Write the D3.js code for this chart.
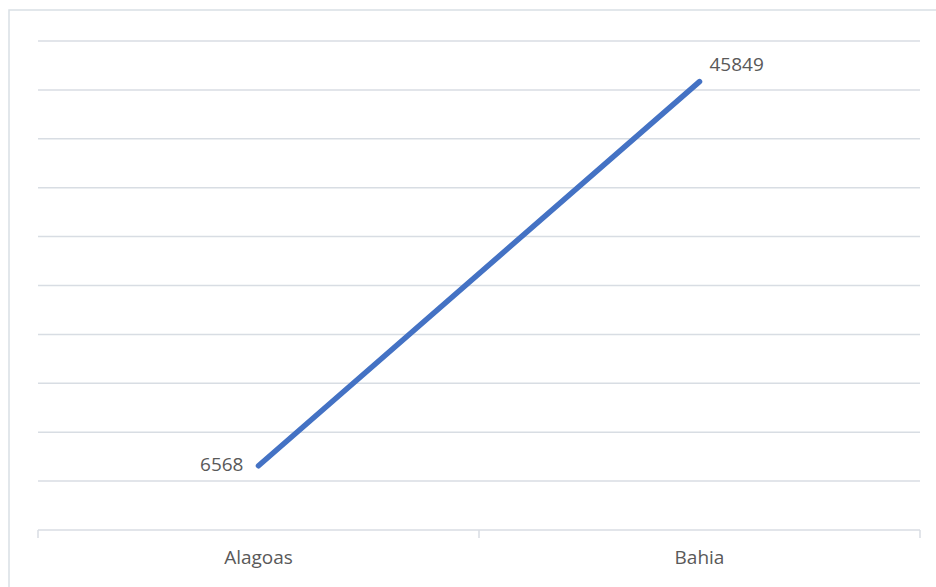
<!DOCTYPE html>
<html>
<head>
<meta charset="utf-8">
<script src="https://cdn.jsdelivr.net/npm/d3@7"></script>
<style>
  html, body { margin: 0; padding: 0; background: #fff; }
  text { font-family: "Open Sans", "Liberation Sans", sans-serif; fill: #595959; }
</style>
</head>
<body>
<div id="chart"></div>
<script>
// chart data
const categories = ["Alagoas", "Bahia"];
const values = [6568, 45849];
const yTicks = [0, 5000, 10000, 15000, 20000, 25000, 30000, 35000, 40000, 45000, 50000];

const W = 936, H = 587;
const m = {top: 41, right: 16, bottom: 57, left: 38};
const fs = 19;

const svg = d3.select("#chart").append("svg")
  .attr("width", W).attr("height", H);

// outer chart frame
svg.append("rect")
  .attr("x", 9).attr("y", 10)
  .attr("width", W).attr("height", H)
  .attr("fill", "none").attr("stroke", "#d9dfe5").attr("stroke-width", 1.5);

const x = d3.scaleBand().domain(categories)
  .range([m.left, W - m.right]);
const y = d3.scaleLinear().domain([0, 50000])
  .range([H - m.bottom, m.top]);

// gridlines
svg.append("g")
  .selectAll("line")
  .data(yTicks.slice(1))
  .join("line")
  .attr("x1", m.left).attr("x2", W - m.right)
  .attr("y1", d => y(d)).attr("y2", d => y(d))
  .attr("stroke", "#d8dde3").attr("stroke-width", 1.5);

// x axis
const xAxis = svg.append("g")
  .attr("transform", `translate(0,${y(0)})`);
xAxis.append("line")
  .attr("x1", m.left).attr("x2", W - m.right)
  .attr("stroke", "#d8dde3").attr("stroke-width", 1.5);
const edges = [m.left].concat(categories.map(c => x(c) + x.bandwidth()));
xAxis.selectAll("line.tick")
  .data(edges)
  .join("line").attr("class", "tick")
  .attr("x1", d => d).attr("x2", d => d)
  .attr("y1", 0).attr("y2", 8)
  .attr("stroke", "#d8dde3").attr("stroke-width", 1.5);
xAxis.selectAll("text")
  .data(categories)
  .join("text")
  .attr("x", d => x(d) + x.bandwidth() / 2)
  .attr("y", 29)
  .attr("text-anchor", "middle")
  .attr("dominant-baseline", "middle")
  .attr("font-size", fs)
  .text(d => d);

// line
const pts = categories.map((c, i) => [x(c) + x.bandwidth() / 2, y(values[i])]);
svg.append("path")
  .attr("d", d3.line()(pts))
  .attr("fill", "none")
  .attr("stroke", "#4472c4")
  .attr("stroke-width", 5.5)
  .attr("stroke-linecap", "round");

// data labels
svg.append("text")
  .attr("x", pts[0][0] - 15).attr("y", pts[0][1])
  .attr("text-anchor", "end").attr("dominant-baseline", "middle")
  .attr("font-size", fs)
  .text(values[0]);
svg.append("text")
  .attr("x", pts[1][0] + 10).attr("y", pts[1][1] - 16)
  .attr("text-anchor", "start").attr("dominant-baseline", "middle")
  .attr("font-size", fs)
  .text(values[1]);
</script>
</body>
</html>
